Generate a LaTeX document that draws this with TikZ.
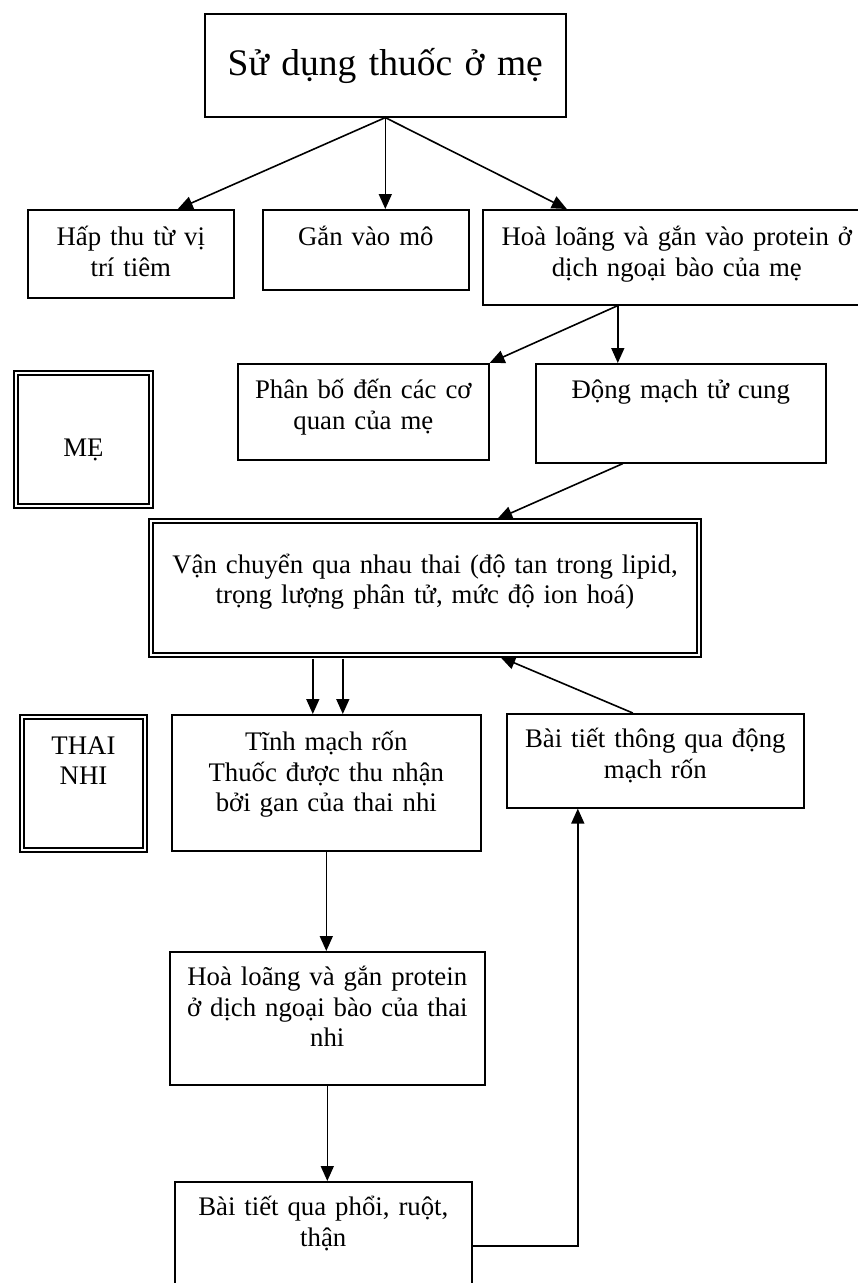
\documentclass[tikz,border=0pt]{standalone}
\usepackage{fontspec}
\setmainfont{Liberation Serif}
\usepackage{tikz}
\usetikzlibrary{arrows.meta}
\tikzset{my_flow/.style={->,>={Triangle[length=15pt,width=13pt]},line width=1.6pt,x=1pt,y=-1pt}}
\tikzset{my_box/.style={draw,line width=1.6pt,inner sep=0pt,anchor=north west,align=center,font=\fontsize{26.8}{30.5}\selectfont}}
\tikzset{my_frame/.style={double,line width=2pt,double distance=2.2pt}}
\tikzset{my_size/.style n args={3}{text width=#1pt,text height=#2pt,text depth=#3pt}}

\begin{document}
\begin{tikzpicture}[my_flow]
    \tikzstyle{every node}=[my_box]
    %\draw[help lines,step=50] (0,0) grid (858,1283);
    \useasboundingbox (0,0) rectangle (858,1283);
    \node[my_size={361}{62}{41}, font=\fontsize{37.5}{45}\selectfont] (thuoc) at (204,13) {Sử dụng thuốc ở mẹ};

    \node[my_size={206}{36}{52}] (hapthu) at (27,209) {Hấp thu từ vị\\trí tiêm};
    \node[my_size={206}{36}{44}] (ganmo) at (262,209) {Gắn vào mô};
    \node[my_size={388}{36}{59}] (hoaloang) at (482,209) {Hoà loãng và gắn vào protein ở\\dịch ngoại bào của mẹ};

    \node[my_size={251}{35}{61}] (phanbo) at (237,363) {Phân bố đến các cơ\\quan của mẹ};
    \node[my_size={290}{35}{64}] (dongmach) at (535,363) {Động mạch tử cung};
    \node[my_frame, my_size={135}{83}{50}] (me) at (15,372) {MẸ};

    \node[my_frame, my_size={548}{52}{82}] (vanchuyen) at (150,520) {Vận chuyển qua nhau thai (độ tan trong lipid,\\trọng lượng phân tử, mức độ ion hoá)};

    \node[my_frame, my_size={123}{37}{96}] (thainhi) at (21,716) {THAI\\NHI};
    \node[my_size={309}{36}{100}] (tinhmach) at (171,714) {Tĩnh mạch rốn\\Thuốc được thu nhận\\bởi gan của thai nhi};
    \node[my_size={297}{34}{60}] (baitietdm) at (506,713) {Bài tiết thông qua động\\mạch rốn};

    \node[my_size={315}{34}{99}] (hoaloangtn) at (169,951) {Hoà loãng và gắn protein\\ở dịch ngoại bào của thai\\nhi};
    \node[my_size={297}{34}{94}] (baitietphoi) at (174,1181) {Bài tiết qua phổi, ruột,\\thận};

    \coordinate (split) at ([xshift=-59pt]hoaloang.south);
    \coordinate (in1) at ([xshift=-13.5pt]tinhmach.north);
    \coordinate (in2) at ([xshift=16.5pt]tinhmach.north);
    \coordinate (back) at ([xshift=-77.5pt]baitietdm.south);

    \path
        (thuoc.south) edge ([xshift=47pt]hapthu.north)
        (thuoc.south) edge (thuoc.south |- ganmo.north)
        (thuoc.south) edge ([xshift=-110pt]hoaloang.north)
        (split) edge (phanbo.north east)
        (split) edge (split |- dongmach.north)
        ([xshift=-58pt]dongmach.south) edge [shorten >=2.5pt] ([xshift=70pt]vanchuyen.north)
        (in1 |- vanchuyen.south) edge [shorten <=2.5pt] (in1)
        (in2 |- vanchuyen.south) edge [shorten <=2.5pt] (in2)
        ([xshift=-22.5pt]baitietdm.north) edge [shorten >=2.5pt] ([xshift=73pt]vanchuyen.south)
        (tinhmach.south) edge (tinhmach.south |- hoaloangtn.north)
        (hoaloangtn.south) edge (hoaloangtn.south |- baitietphoi.north)
    ;
    \draw (baitietphoi.east) -| (back);
\end{tikzpicture}
\end{document}
